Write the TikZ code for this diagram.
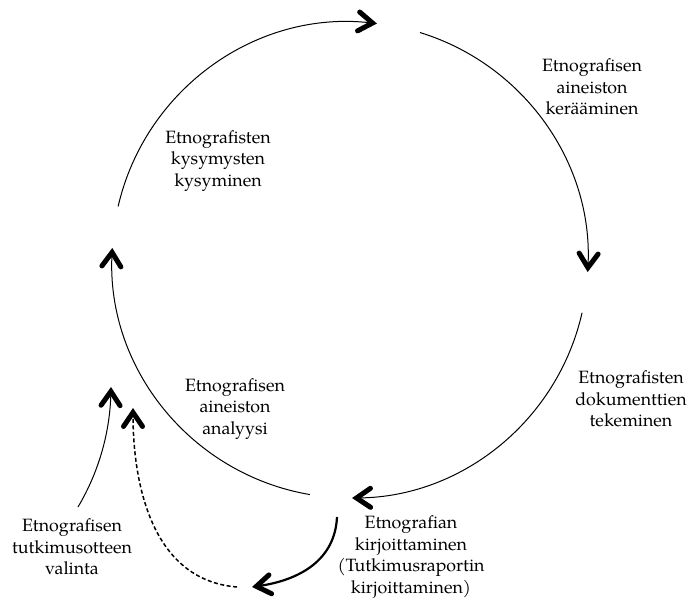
\documentclass[tikz,border=0pt]{standalone}
\usepackage{fontspec}
\setmainfont{TeX Gyre Pagella}
\usetikzlibrary{arrows.meta}
\begin{document}
\begin{tikzpicture}[x=1pt,y=1pt,
  barb/.style={-{Straight Barb[length=14pt,width=19pt,line width=5pt,line cap=round,line join=miter]}},
  ring/.style={line width=1pt,barb},
  lbl/.style={align=center,inner sep=0pt,font=\fontsize{17.8}{21.5}\selectfont}]
\useasboundingbox (0,0) rectangle (690,598);
\def\R{238}
\coordinate (c) at (350,338);

% labels
\node[lbl] (kerays)   at (592,511) {Etnografisen\\aineiston\\kerääminen};
\node[lbl] (kysym)    at (218,437) {Etnografisten\\kysymysten\\kysyminen};
\node[lbl] (dokum)    at (631,199) {Etnografisten\\dokumenttien\\tekeminen};
\node[lbl] (analyysi) at (235,189) {Etnografisen\\aineiston\\analyysi};
\node[lbl] (kirjoit)  at (411,41)  {Etnografian\\kirjoittaminen\\(Tutkimusraportin\\kirjoittaminen)};
\node[lbl] (valinta)  at (72,51)   {Etnografisen\\tutkimusotteen\\valinta};

% the research cycle, drawn clockwise
\draw[ring] (c) ++(167:\R) arc[start angle=167, end angle=83.5, radius=\R];
\draw[ring] (c) ++(72.9:\R) arc[start angle=72.9, end angle=-2.9, radius=\R];
\draw[ring] (c) ++(-12.8:\R) arc[start angle=-12.8, end angle=-89.5, radius=\R];
\draw[ring] (c) ++(260.3:\R) arc[start angle=260.3, end angle=177.1, radius=\R];

% entry into the cycle and the return from writing
\coordinate (vstart) at (78,91);
\coordinate (vend)   at (111,211);
\coordinate (kstart) at (337,81);
\coordinate (kend)   at (252,11);
\coordinate (dstart) at (237,11);
\coordinate (dend)   at (133,190);
\draw[line width=1pt,barb] (vstart) .. controls (100,128) and (110,168) .. (vend);
\draw[line width=2.2pt,barb] (kstart) .. controls (335,38) and (300,18) .. (kend);
\draw[line width=1.5pt,dash pattern=on 4pt off 2.5pt,barb] (dstart) .. controls (150,18) and (133,118) .. (dend);
\end{tikzpicture}
\end{document}
